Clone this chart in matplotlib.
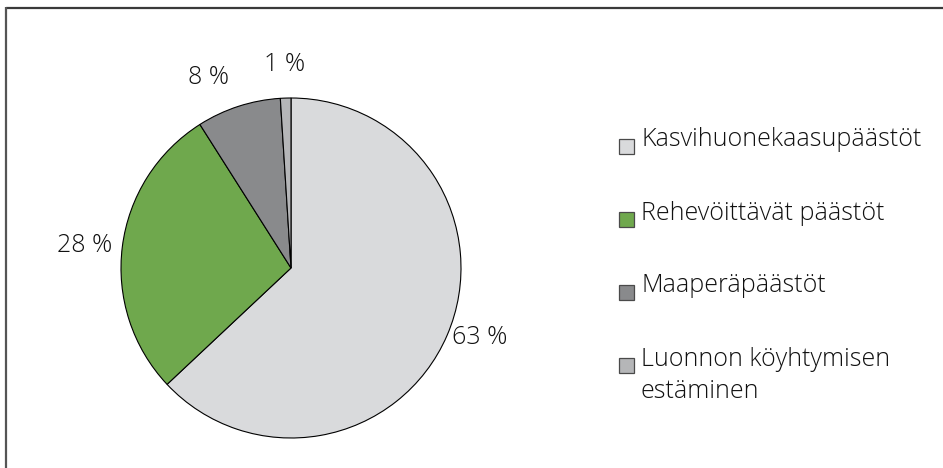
import matplotlib
matplotlib.use("Agg")
import matplotlib.pyplot as plt
from matplotlib.patches import Rectangle
import numpy as np

plt.rcParams['font.family'] = ['Open Sans', 'DejaVu Sans']
plt.rcParams['font.weight'] = 'light'

# emission shares (%)
categories = ["Kasvihuonekaasupäästöt", "Rehevöittävät päästöt",
              "Maaperäpäästöt", "Luonnon köyhtymisen\nestäminen"]
shares = [63, 28, 8, 1]
colors = ["#d9dadc", "#6fa84d", "#898a8c", "#b5b6b8"]

# label placement around the pie
label_r = [1.03, 1.06, 1.18, 1.195]
label_ha = ["left", "right", "right", "center"]

W, H = 943, 468
FS = 18
fig = plt.figure(figsize=(W / 100, H / 100), dpi=100)

# pie axes, centre ~ (291, 268) px, radius 170 px
cx, cy, r = 291, 268, 170
ax = fig.add_axes([(cx - r) / W, (H - cy - r) / H, 2 * r / W, 2 * r / H])
wedges, _ = ax.pie(shares, colors=colors, startangle=90, counterclock=False,
                   radius=1.0,
                   wedgeprops=dict(edgecolor="black", linewidth=0.8))
ax.set_xlim(-1, 1)
ax.set_ylim(-1, 1)
ax.set_aspect("equal")
ax.axis("off")

for w, val, rr, ha in zip(wedges, shares, label_r, label_ha):
    mid = np.deg2rad((w.theta1 + w.theta2) / 2)
    ax.text(rr * np.cos(mid), rr * np.sin(mid), f"{val} %", ha=ha, va="center",
            fontsize=FS, color="#111111", clip_on=False)

# overlay in pixel coordinates for frame and legend
ov = fig.add_axes([0, 0, 1, 1])
ov.set_xlim(0, W)
ov.set_ylim(H, 0)
ov.axis("off")
ov.set_zorder(-1)

ov.plot([5.5, W], [7.5, 7.5], color="#3a3a3a", linewidth=1.6, solid_capstyle="butt")
ov.plot([5.5, 5.5], [7, H], color="#555555", linewidth=1.6, solid_capstyle="butt")

row_y = 140
step = 73
line_gap = 33
for i, (name, col) in enumerate(zip(categories, colors)):
    y = row_y + i * step
    ov.add_patch(Rectangle((619, y - 1), 15, 15, facecolor=col,
                           edgecolor="#4a4a4a", linewidth=0.9))
    for j, line in enumerate(name.split("\n")):
        ov.text(641, y + j * line_gap, line, ha="left", va="center",
                fontsize=FS, color="#111111")

fig.savefig("out.png", dpi=100)
